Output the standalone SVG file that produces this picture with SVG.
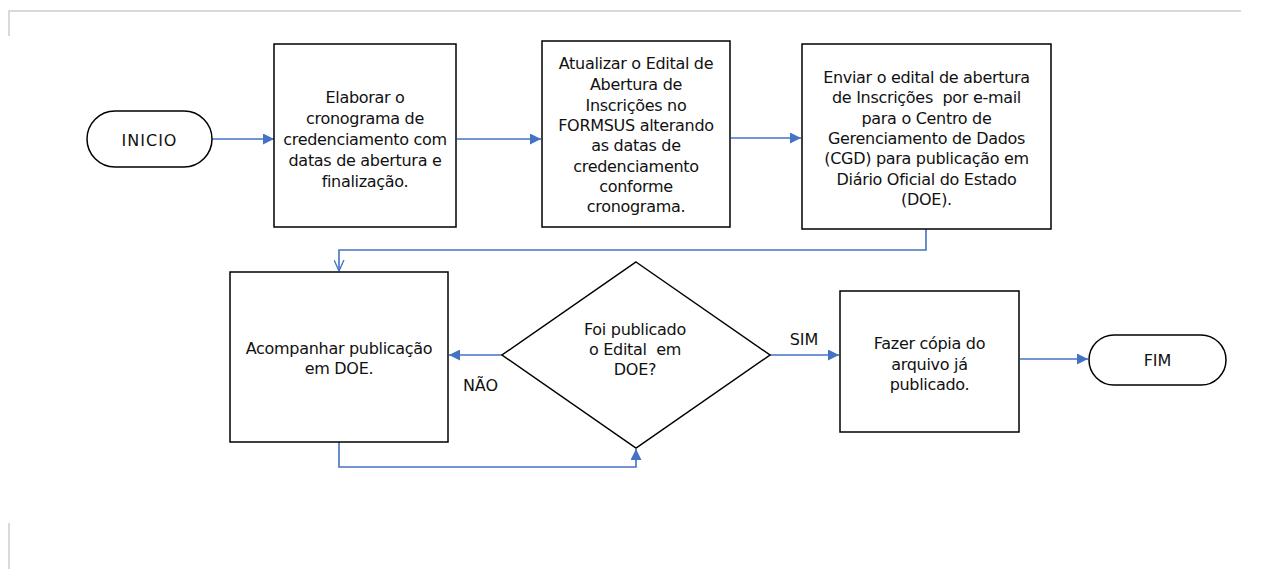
<svg xmlns="http://www.w3.org/2000/svg" width="1282" height="569" viewBox="0 0 1282 569">
<style>
.box{fill:#fff;stroke:#000;stroke-width:1.5}
.t{font-family:"DejaVu Sans",Verdana,sans-serif;font-size:16px;letter-spacing:-0.3px;fill:#111;text-anchor:middle}
.lb{font-family:"DejaVu Sans",Verdana,sans-serif;font-size:16px;fill:#111;text-anchor:middle}
.c{fill:none;stroke:#4472C4;stroke-width:1.6}
.pg{stroke:#d9d9d9;stroke-width:2;fill:none}
</style>
<defs>
<marker id="ah" viewBox="0 0 10 10" refX="10" refY="5" markerWidth="11" markerHeight="11" markerUnits="userSpaceOnUse" orient="auto">
<path d="M0,0 L10,5 L0,10 Z" fill="#4472C4"/>
</marker>
<marker id="ao" viewBox="0 0 10 10" refX="10" refY="5" markerWidth="11" markerHeight="11" markerUnits="userSpaceOnUse" orient="auto">
<path d="M0,0.5 L10,5 L0,9.5" fill="none" stroke="#4472C4" stroke-width="1.2"/>
</marker>
</defs>
<rect width="1282" height="569" fill="#fff"/>
<path class="pg" d="M9,36 V11 H1241"/>
<path class="pg" d="M9,523 V569"/>
<g id="connectors">
<path class="c" d="M212,139 H274" marker-end="url(#ah)"/>
<path class="c" d="M457,139 H541" marker-end="url(#ah)"/>
<path class="c" d="M731,138 H801" marker-end="url(#ah)"/>
<path class="c" d="M926,229 V250 H339 V271" marker-end="url(#ao)"/>
<path class="c" d="M502,355 H449" marker-end="url(#ah)"/>
<path class="c" d="M339,442 V467 H636 V449" marker-end="url(#ah)"/>
<path class="c" d="M770,355 H839" marker-end="url(#ah)"/>
<path class="c" d="M1020,359 H1088" marker-end="url(#ah)"/>
<text class="lb" x="480.5" y="391">NÃO</text>
<text class="lb" x="804" y="345">SIM</text>
</g>
<g id="inicio">
<rect class="box" x="87" y="111" width="125" height="56" rx="28" ry="28"/>
<text class="lb" x="149.5" y="146" letter-spacing="1">INICIO</text>
</g>
<g id="elaborar">
<rect class="box" x="274" y="44" width="182" height="183"/>
<text class="t" x="365" y="103">Elaborar o</text>
<text class="t" x="365" y="124">cronograma de</text>
<text class="t" x="365" y="145" letter-spacing="-0.7">credenciamento com</text>
<text class="t" x="365" y="166">datas de abertura e</text>
<text class="t" x="365" y="187">finalização.</text>
</g>
<g id="atualizar">
<rect class="box" x="542" y="41" width="188" height="186"/>
<text class="t" x="636" y="69">Atualizar o Edital de</text>
<text class="t" x="636" y="90">Abertura de</text>
<text class="t" x="636" y="111">Inscrições no</text>
<text class="t" x="636" y="131">FORMSUS alterando</text>
<text class="t" x="636" y="151">as datas de</text>
<text class="t" x="636" y="172">credenciamento</text>
<text class="t" x="636" y="192">conforme</text>
<text class="t" x="636" y="212">cronograma.</text>
</g>
<g id="enviar">
<rect class="box" x="802" y="44" width="249" height="185"/>
<text class="t" x="926.5" y="83">Enviar o edital de abertura</text>
<text class="t" x="926.5" y="103" xml:space="preserve">de Inscrições  por e-mail</text>
<text class="t" x="926.5" y="124">para o Centro de</text>
<text class="t" x="926.5" y="144">Gerenciamento de Dados</text>
<text class="t" x="926.5" y="164">(CGD) para publicação em</text>
<text class="t" x="926.5" y="185">Diário Oficial do Estado</text>
<text class="t" x="926.5" y="205">(DOE).</text>
</g>
<g id="acompanhar">
<rect class="box" x="230" y="272" width="218" height="170"/>
<text class="t" x="339" y="354">Acompanhar publicação</text>
<text class="t" x="339" y="374">em DOE.</text>
</g>
<g id="decisao">
<path class="box" d="M636,262 L770,355 L636,448 L502,355 Z"/>
<text class="t" x="635" y="335">Foi publicado</text>
<text class="t" x="635" y="355" xml:space="preserve">o Edital  em</text>
<text class="t" x="635" y="375">DOE?</text>
</g>
<g id="copia">
<rect class="box" x="840" y="291" width="179" height="141"/>
<text class="t" x="929.5" y="349">Fazer cópia do</text>
<text class="t" x="929.5" y="370">arquivo já</text>
<text class="t" x="929.5" y="390">publicado.</text>
</g>
<g id="fim">
<rect class="box" x="1089" y="335" width="137" height="50" rx="25" ry="25"/>
<text class="lb" x="1157.5" y="366">FIM</text>
</g>
</svg>
